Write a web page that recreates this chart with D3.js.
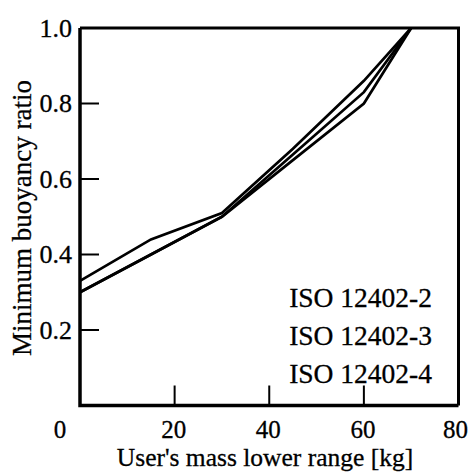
<!DOCTYPE html>
<html>
<head>
<meta charset="utf-8">
<script src="https://cdn.jsdelivr.net/npm/d3@7/dist/d3.min.js"></script>
<style>
  html, body { margin: 0; padding: 0; background: #fff; }
</style>
</head>
<body>
<svg id="chart" width="473" height="472"></svg>
<script>
// ---- data ----
const seriesNames = ["ISO 12402-2", "ISO 12402-3", "ISO 12402-4"];
const massPoints = [0, 15, 30, 45, 60, 70];
const ratioIso2 = [0.33, 0.44, 0.51, 0.68, 0.86, 1.0];
const ratioIso3 = [0.30, 0.40, 0.50, 0.665, 0.83, 1.0];
const ratioIso4 = [0.30, 0.40, 0.50, 0.65, 0.80, 1.0];
const xTicks = [0, 20, 40, 60, 80];
const yTicks = [0.2, 0.4, 0.6, 0.8, 1.0];
const xTitle = "User's mass lower range [kg]";
const yTitle = "Minimum buoyancy ratio";

const series = [ratioIso2, ratioIso3, ratioIso4];
const FONT = '"Liberation Serif"';

const svg = d3.select("#chart");
const L = 80, R = 458.5, T = 28, B = 405.5;
const x = d3.scaleLinear().domain([0, 80]).range([L, R]);
const y = d3.scaleLinear().domain([0, 1]).range([B, T]);

function txt(sel, size) {
  return sel.attr("font-size", size)
    .style("font-family", FONT)
    .attr("fill", "#000").attr("stroke", "#000").attr("stroke-width", 0.3);
}

// frame (top & right)
svg.append("path")
  .attr("d", `M${L},${T}H${R}V${B}`)
  .attr("fill", "none").attr("stroke", "#000").attr("stroke-width", 3);

// inward ticks
svg.append("g").selectAll("line").data(yTicks.filter(v => v < 1)).join("line")
  .attr("x1", L).attr("x2", L + 19)
  .attr("y1", d => y(d)).attr("y2", d => y(d))
  .attr("stroke", "#000").attr("stroke-width", 2);
svg.append("g").selectAll("line").data(xTicks.filter(v => v > 0 && v < 80)).join("line")
  .attr("x1", d => x(d)).attr("x2", d => x(d))
  .attr("y1", B).attr("y2", B - 20)
  .attr("stroke", "#000").attr("stroke-width", 2);

// axes lines
svg.append("path")
  .attr("d", `M${L},${T}V${B}H${R}`)
  .attr("fill", "none").attr("stroke", "#000").attr("stroke-width", 3.5);

// data lines
const line = d3.line().x((d, i) => x(massPoints[i])).y(d => y(d));
svg.append("g").selectAll("path").data(series).join("path")
  .attr("d", d => line(d))
  .attr("fill", "none").attr("stroke", "#000").attr("stroke-width", 2.7)
  .attr("stroke-linejoin", "miter");

// tick labels
svg.append("g").selectAll("text").data(xTicks).join("text")
  .attr("x", d => x(d) - (d === 0 ? 20 : (d === 80 ? 3 : 1)))
  .attr("y", 438)
  .attr("text-anchor", "middle")
  .call(txt, 25)
  .text(d => d);
svg.append("g").selectAll("text").data(yTicks).join("text")
  .attr("x", 72).attr("y", d => y(d) + 8.5)
  .attr("text-anchor", "end")
  .call(txt, 26)
  .text(d => d.toFixed(1));

// axis titles
svg.append("text")
  .attr("x", 265).attr("y", 465.5)
  .attr("text-anchor", "middle")
  .call(txt, 25.5)
  .text(xTitle);
svg.append("text")
  .attr("transform", `translate(31,218) rotate(-90)`)
  .attr("text-anchor", "middle")
  .call(txt, 27)
  .text(yTitle);

// legend labels
svg.append("g").selectAll("text").data(seriesNames).join("text")
  .attr("x", 432).attr("y", (d, i) => 307 + i * 38)
  .attr("text-anchor", "end")
  .call(txt, 27.5)
  .text(d => d);
</script>
</body>
</html>
